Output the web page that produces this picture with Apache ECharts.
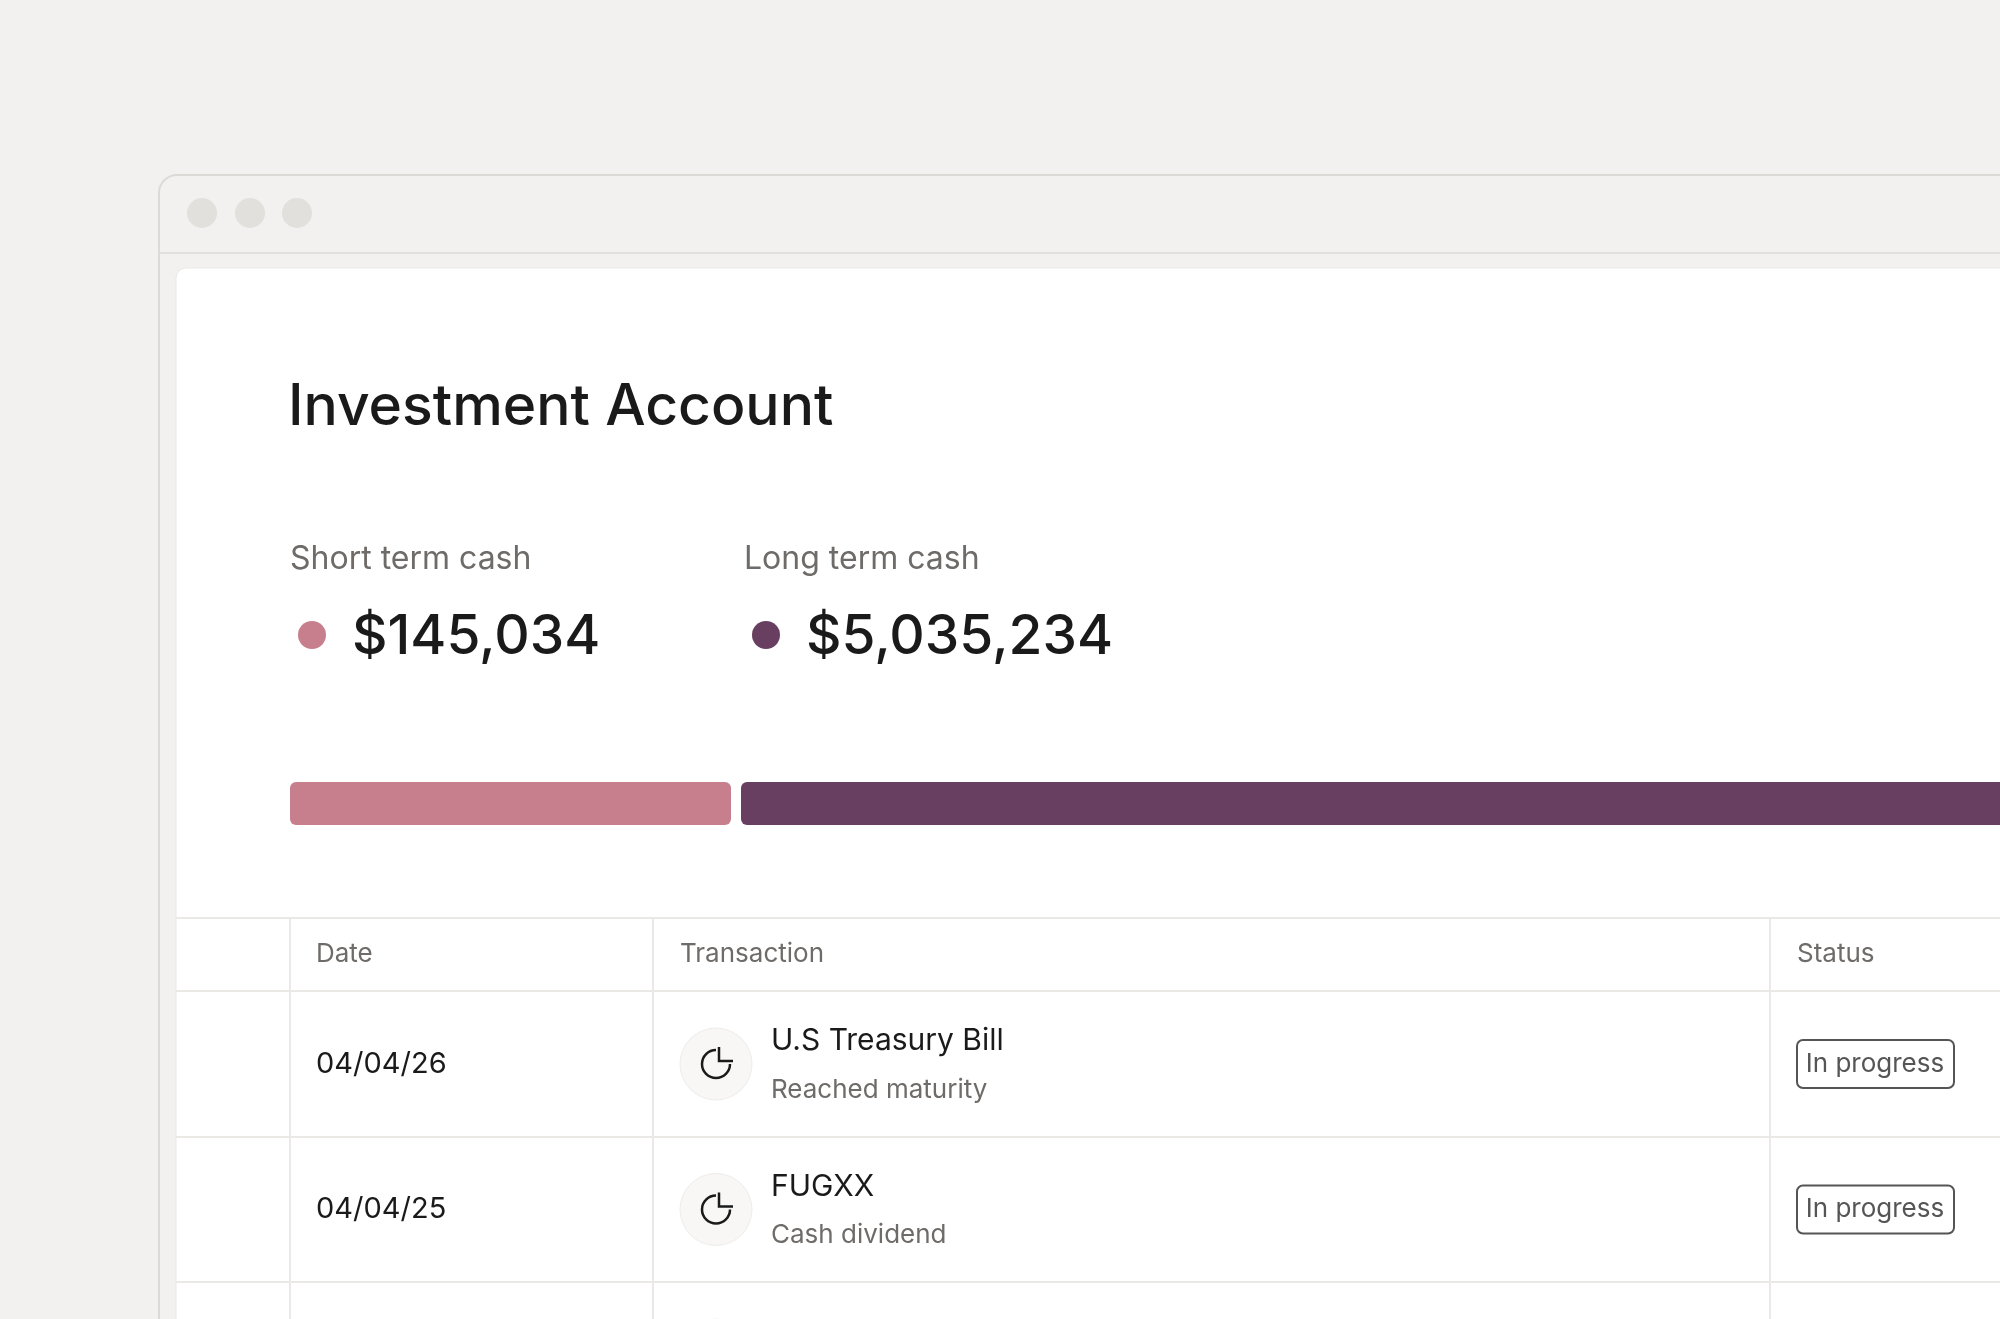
<!DOCTYPE html>
<html><head><meta charset="utf-8">
<script src="https://cdn.jsdelivr.net/npm/echarts@6/dist/echarts.min.js"></script>
<style>html,body{margin:0;padding:0;background:#f2f1ef}#c{width:2000px;height:1319px}</style>
</head><body><div id="c"></div>
<script>
const title = 'Investment Account';
const cashLabels = ['Short term cash', 'Long term cash'];
const cashValues = ['$145,034', '$5,035,234'];
const cashColors = ['#c77f8e', '#683f60'];
const barShares = [441, 1400]; // displayed segment lengths
const columns = ['Date', 'Transaction', 'Status'];
const dates = ['04/04/26', '04/04/25'];
const txNames = ['U.S Treasury Bill', 'FUGXX'];
const txNotes = ['Reached maturity', 'Cash dividend'];
const statuses = ['In progress', 'In progress'];

const F = 'Inter, "Noto Sans", sans-serif';
const g = [];
g.push({type:'rect',shape:{x:159,y:175,width:1900,height:1200,r:18},style:{fill:'#f2f1ef',stroke:'#dcdad6',lineWidth:2},z:0});
[202,250,297].forEach(x=>g.push({type:'circle',shape:{cx:x,cy:213,r:15},style:{fill:'#e2e0dd'},z:1}));
g.push({type:'line',shape:{x1:159,y1:253,x2:2000,y2:253},style:{stroke:'#e2e0dd',lineWidth:2},z:1});
g.push({type:'rect',shape:{x:176,y:268,width:1900,height:1100,r:10},style:{fill:'#ffffff',stroke:'#ebe9e6',lineWidth:1},z:1});
g.push({type:'text',x:288,y:408,style:{text:title,font:'500 57px '+F,fill:'#1a1a1a',textVerticalAlign:'middle'},z:5});
const lx=[290,744];
cashLabels.forEach((l,i)=>{
  g.push({type:'text',x:lx[i],y:559,style:{text:l,font:'32px '+F,fill:'#6e6b68',textVerticalAlign:'middle'},z:5});
  g.push({type:'circle',shape:{cx:lx[i]+22,cy:635,r:14},style:{fill:cashColors[i]},z:5});
  g.push({type:'text',x:lx[i]+62,y:637,style:{text:cashValues[i],font:'500 55px '+F,fill:'#1a1a1a',textVerticalAlign:'middle'},z:5});
});
const lineC='#ebe9e6';
[918,991,1137,1282].forEach(y=>g.push({type:'line',shape:{x1:176,y1:y,x2:2000,y2:y},style:{stroke:lineC,lineWidth:2},z:3}));
[290,653,1770].forEach(x=>g.push({type:'line',shape:{x1:x,y1:918,x2:x,y2:1319},style:{stroke:lineC,lineWidth:2},z:3}));
const hx=[316,680,1797];
columns.forEach((c,i)=>g.push({type:'text',x:hx[i],y:954,style:{text:c,font:'26px '+F,fill:'#6e6b68',textVerticalAlign:'middle'},z:5}));
dates.forEach((d,i)=>{
  const cy=1064+i*145.5;
  g.push({type:'text',x:316,y:cy,style:{text:d,font:'29px '+F,fill:'#1a1a1a',textVerticalAlign:'middle'},z:5});
  g.push({type:'circle',shape:{cx:716,cy:cy,r:36},style:{fill:'#f8f7f5',stroke:'#efede9',lineWidth:1},z:4});
  g.push({type:'arc',shape:{cx:716,cy:cy,r:14,startAngle:0,endAngle:Math.PI*1.5},style:{stroke:'#1a1a1a',lineWidth:2.5,fill:null},z:5});
  g.push({type:'polyline',shape:{points:[[719,cy-17],[719,cy-3],[733,cy-3]]},style:{stroke:'#1a1a1a',lineWidth:2.5,fill:null},z:5});
  g.push({type:'text',x:771,y:cy-23,style:{text:txNames[i],font:'30px '+F,fill:'#1a1a1a',textVerticalAlign:'middle'},z:5});
  g.push({type:'text',x:771,y:cy+26,style:{text:txNotes[i],font:'26px '+F,fill:'#6e6b68',textVerticalAlign:'middle'},z:5});
  g.push({type:'rect',shape:{x:1797,y:cy-24,width:157,height:48,r:6},style:{fill:'#fff',stroke:'#555',lineWidth:2},z:5});
  g.push({type:'text',x:1875,y:cy,style:{text:statuses[i],font:'26px '+F,fill:'#555',textAlign:'center',textVerticalAlign:'middle'},z:6});
});
g.push({type:'circle',shape:{cx:716,cy:1355,r:36},style:{fill:'#f8f7f5',stroke:'#efede9'},z:4});

const chart = echarts.init(document.getElementById('c'));
chart.setOption({
  animation:false,
  backgroundColor:'#f2f1ef',
  grid:{left:290,right:0,top:782,height:43},
  xAxis:{type:'value',min:0,max:1710,show:false},
  yAxis:{type:'category',data:['cash'],show:false},
  graphic:g,
  series:[
    {type:'bar',stack:'s',barWidth:43,data:[barShares[0]],itemStyle:{color:cashColors[0],borderRadius:6},z:10},
    {type:'bar',stack:'s',barWidth:43,data:[10],itemStyle:{color:'rgba(0,0,0,0)'},z:10},
    {type:'bar',stack:'s',barWidth:43,data:[barShares[1]],itemStyle:{color:cashColors[1],borderRadius:[6,0,0,6]},z:10}
  ]
});
</script></body></html>
